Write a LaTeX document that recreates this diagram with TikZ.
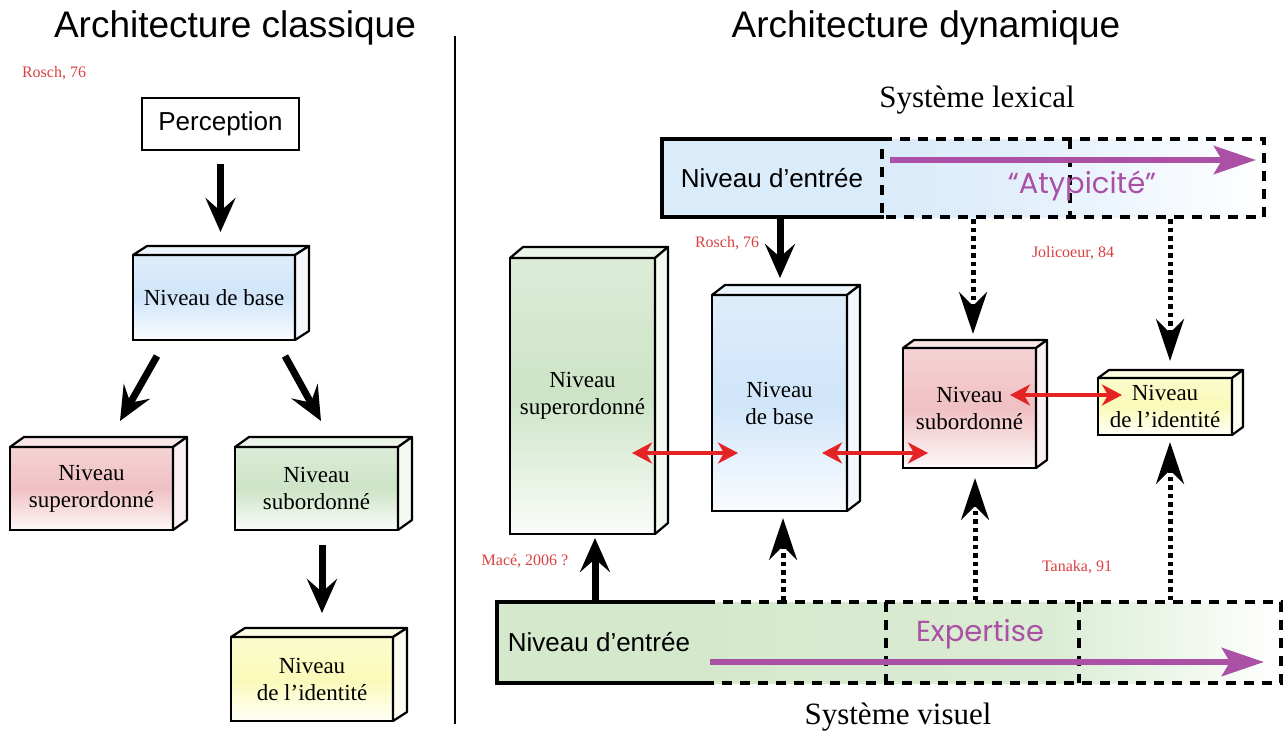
\documentclass[tikz,border=0pt]{standalone}
\usepackage{fontspec}
\setmainfont{Liberation Serif}
\setsansfont{Liberation Sans}
\newfontfamily\comicf{Poppins}
\usetikzlibrary{arrows.meta,calc}
\definecolor{cpink}{RGB}{240,192,195}
\definecolor{cgreen}{RGB}{205,228,198}
\definecolor{cblue}{RGB}{208,229,250}
\definecolor{cyellow}{RGB}{250,250,185}
\definecolor{cred}{RGB}{228,36,36}
\definecolor{clabel}{RGB}{218,64,64}
\definecolor{cpurple}{RGB}{170,80,165}
\definecolor{entblue}{RGB}{218,235,250}
\definecolor{entgreen}{RGB}{212,233,204}
\pgfdeclarehorizontalshading{fadeblue}{100bp}{color(0bp)=(entblue); color(25bp)=(entblue); color(42bp)=(entblue!80!white); color(75bp)=(white); color(100bp)=(white)}
\pgfdeclarehorizontalshading{fadegreen}{100bp}{color(0bp)=(entgreen); color(25bp)=(entgreen); color(55bp)=(entgreen!85!white); color(75bp)=(white); color(100bp)=(white)}
\tikzset{
  boxf/.style={draw=black, line width=2.5pt, inner sep=0pt, outer sep=0pt, align=center,
    font=\fontsize{23}{27}\selectfont},
  face/.style={draw=black, line width=2.2pt, line join=round},
  bigarrow/.style={line width=7pt, -{Stealth[length=34pt,width=30pt,inset=13pt]}},
  dotarrow/.style={line width=5pt, dash pattern=on 4.5pt off 4pt,
    -{Stealth[length=42pt,width=28pt,inset=14pt]}},
  redarrow/.style={cred, line width=3.5pt,
    {Stealth[length=20pt,width=21pt,inset=6pt]}-{Stealth[length=20pt,width=21pt,inset=6pt]}},
  purparrow/.style={cpurple, line width=6.5pt, -{Stealth[length=42pt,width=28pt,inset=8pt]}},
  cite/.style={text=clabel, font=\fontsize{16}{18}\selectfont, inner sep=0pt},
  dashes/.style={line width=4.5pt, dash pattern=on 10pt off 8pt},
  solidborder/.style={line width=4.5pt, line cap=rect},
  title/.style={font=\sffamily\fontsize{37}{42}\selectfont, inner sep=0pt},
  sysname/.style={font=\fontsize{31}{35}\selectfont, inner sep=0pt},
  enttext/.style={font=\sffamily\fontsize{26}{30}\selectfont},
}
\newcommand\cubebox[9]{%
  \node[boxf, top color=#8!70!white, bottom color=#8!10!white, middle color=#8,
        minimum width={#4-#2}, minimum height={#5-#3}] (#1) at ({(#2+#4)/2},{(#3+#5)/2}) {#9};
  \draw[face, fill=#8!40!white] (#1.north west) -- ++(#6,-#7) -- ($(#1.north east)+(#6,-#7)$) -- (#1.north east) -- cycle;
  \draw[face, fill=#8!22!white] (#1.north east) -- ++(#6,-#7) -- ($(#1.south east)+(#6,-#7)$) -- (#1.south east) -- cycle;
}
\begin{document}
\begin{tikzpicture}[x=1pt,y=-1pt]
\useasboundingbox (0,0) rectangle (1285,734);
\fill[white] (0,0) rectangle (1285,734);

% titles and divider
\node[title] (t1) at (235,28) {Architecture classique};
\node[title] (t2) at (926,28) {Architecture dynamique};
\coordinate (dv1) at (455,36);
\coordinate (dv2) at (455,724);
\draw[line width=1.2pt] (dv1) -- (dv2);

% ---------- left: classical ----------
\node[cite] (c1) at (54,73) {Rosch, 76};
\node[draw, line width=2pt, inner sep=0pt, minimum width=157, minimum height=52,
      font=\sffamily\fontsize{26}{30}\selectfont] (perc) at (220.5,124) {Perception};
\cubebox{base}{133}{255}{295}{340}{14}{9}{cblue}{Niveau de base}
\cubebox{sup}{10}{447}{173}{530}{14}{10}{cpink}{Niveau\\superordonné}
\cubebox{sub}{235}{447}{398}{530}{14}{10}{cgreen}{Niveau\\subordonné}
\cubebox{ident}{231}{637}{393}{721}{14}{9}{cyellow}{Niveau\\de l’identité}

\draw[bigarrow, shorten <=13pt, shorten >=23pt] (perc.south) -- (perc.south |- base.north);
\coordinate (d1a) at (157,356);
\coordinate (d1b) at (120,421);
\coordinate (d2a) at (285,356);
\coordinate (d2b) at (321,421);
\draw[bigarrow] (d1a) -- (d1b);
\draw[bigarrow] (d2a) -- (d2b);
\coordinate (d3a) at (322,545);
\coordinate (d3b) at (322,613);
\draw[bigarrow] (d3a) -- (d3b);

% ---------- right: dynamic ----------
\node[sysname] (lex) at (977,100) {Système lexical};
\node[sysname] (vis) at (898,717) {Système visuel};

% top entry level
\node[fill=entblue, inner sep=0pt, outer sep=0pt, minimum width=220, minimum height=78] (ent1) at (772,178) {};
\node[shading=fadeblue, inner sep=0pt, outer sep=0pt, minimum width=382, minimum height=78] (ext1) at (1073,178) {};
\node[enttext] (ent1t) at (ent1.center) {Niveau d’entrée};
\draw[solidborder] (ent1.north east) -- (ent1.north west) -- (ent1.south west) -- (ent1.south east);
\draw[dashes] (ext1.north west) -- (ext1.north east) -- (ext1.south east) -- (ext1.south west) -- cycle;
\draw[dashes] ($(ext1.north west)!0.492!(ext1.north east)$) -- ($(ext1.south west)!0.492!(ext1.south east)$);
\coordinate (pa1) at (890,160);
\coordinate (pa2) at (1256,160);
\draw[purparrow] (pa1) -- (pa2);
\node[text=cpurple, font=\comicf\fontsize{29}{32}\selectfont, inner sep=0pt] (atyp) at (1082,186) {“Atypicité”};

% bottom entry level
\node[fill=entgreen, inner sep=0pt, outer sep=0pt, minimum width=208, minimum height=81] (ent2) at (601,642.5) {};
\node[shading=fadegreen, inner sep=0pt, outer sep=0pt, minimum width=576, minimum height=81] (ext2) at (993,642.5) {};
\node[enttext] (ent2t) at (599,642) {Niveau d’entrée};
\draw[solidborder] (ent2.north east) -- (ent2.north west) -- (ent2.south west) -- (ent2.south east);
\draw[dashes] (ext2.north west) -- (ext2.north east) -- (ext2.south east) -- (ext2.south west);
\draw[dashes] ($(ext2.north west)!0.314!(ext2.north east)$) -- ($(ext2.south west)!0.314!(ext2.south east)$);
\draw[dashes] ($(ext2.north west)!0.649!(ext2.north east)$) -- ($(ext2.south west)!0.649!(ext2.south east)$);
\coordinate (pb1) at (710,662);
\coordinate (pb2) at (1264,662);
\draw[purparrow] (pb1) -- (pb2);
\node[text=cpurple, font=\comicf\fontsize{29}{32}\selectfont, inner sep=0pt] (expt) at (980,634) {Expertise};

% cubes
\cubebox{rsup}{510}{258}{655}{534}{13}{11}{cgreen}{Niveau\\superordonné}
\cubebox{rbase}{712}{295}{847}{511}{13}{10}{cblue}{Niveau\\de base}
\cubebox{rsub}{903}{348}{1036}{468}{11}{8}{cpink}{Niveau\\subordonné}
\cubebox{rid}{1098}{378}{1232}{435}{11}{8}{cyellow}{Niveau\\de l’identité}

% citations
\node[cite] (c2) at (727,243) {Rosch, 76};
\node[cite] (c3) at (1073,253) {Jolicoeur, 84};
\node[cite] (c4) at (525,561) {Macé, 2006 ?};
\node[cite] (c5) at (1077,567) {Tanaka, 91};

% arrows from lexical entry
\coordinate (ra1) at (780,217);
\coordinate (ra2) at (780,278);
\draw[bigarrow] (ra1) -- (ra2);
\coordinate (da1) at (973,219);
\coordinate (da2) at (973,334);
\coordinate (db1) at (1170,219);
\coordinate (db2) at (1170,361);
\draw[dotarrow] (da1) -- (da2);
\draw[dotarrow] (db1) -- (db2);

% arrows from visual entry
\coordinate (ua1) at (595,600);
\coordinate (ua2) at (595,538);
\draw[bigarrow] (ua1) -- (ua2);
\coordinate (ub1) at (783,600);
\coordinate (ub2) at (783,518);
\coordinate (uc1) at (975,600);
\coordinate (uc2) at (975,478);
\coordinate (ud1) at (1170,600);
\coordinate (ud2) at (1170,442);
\draw[dotarrow] (ub1) -- (ub2);
\draw[dotarrow] (uc1) -- (uc2);
\draw[dotarrow] (ud1) -- (ud2);

% red bidirectional
\coordinate (r1a) at (632,453);
\coordinate (r1b) at (738,453);
\coordinate (r2a) at (822,453);
\coordinate (r2b) at (928,453);
\coordinate (r3a) at (1010,395);
\coordinate (r3b) at (1122,395);
\draw[redarrow] (r1a) -- (r1b);
\draw[redarrow] (r2a) -- (r2b);
\draw[redarrow] (r3a) -- (r3b);
\end{tikzpicture}
\end{document}
